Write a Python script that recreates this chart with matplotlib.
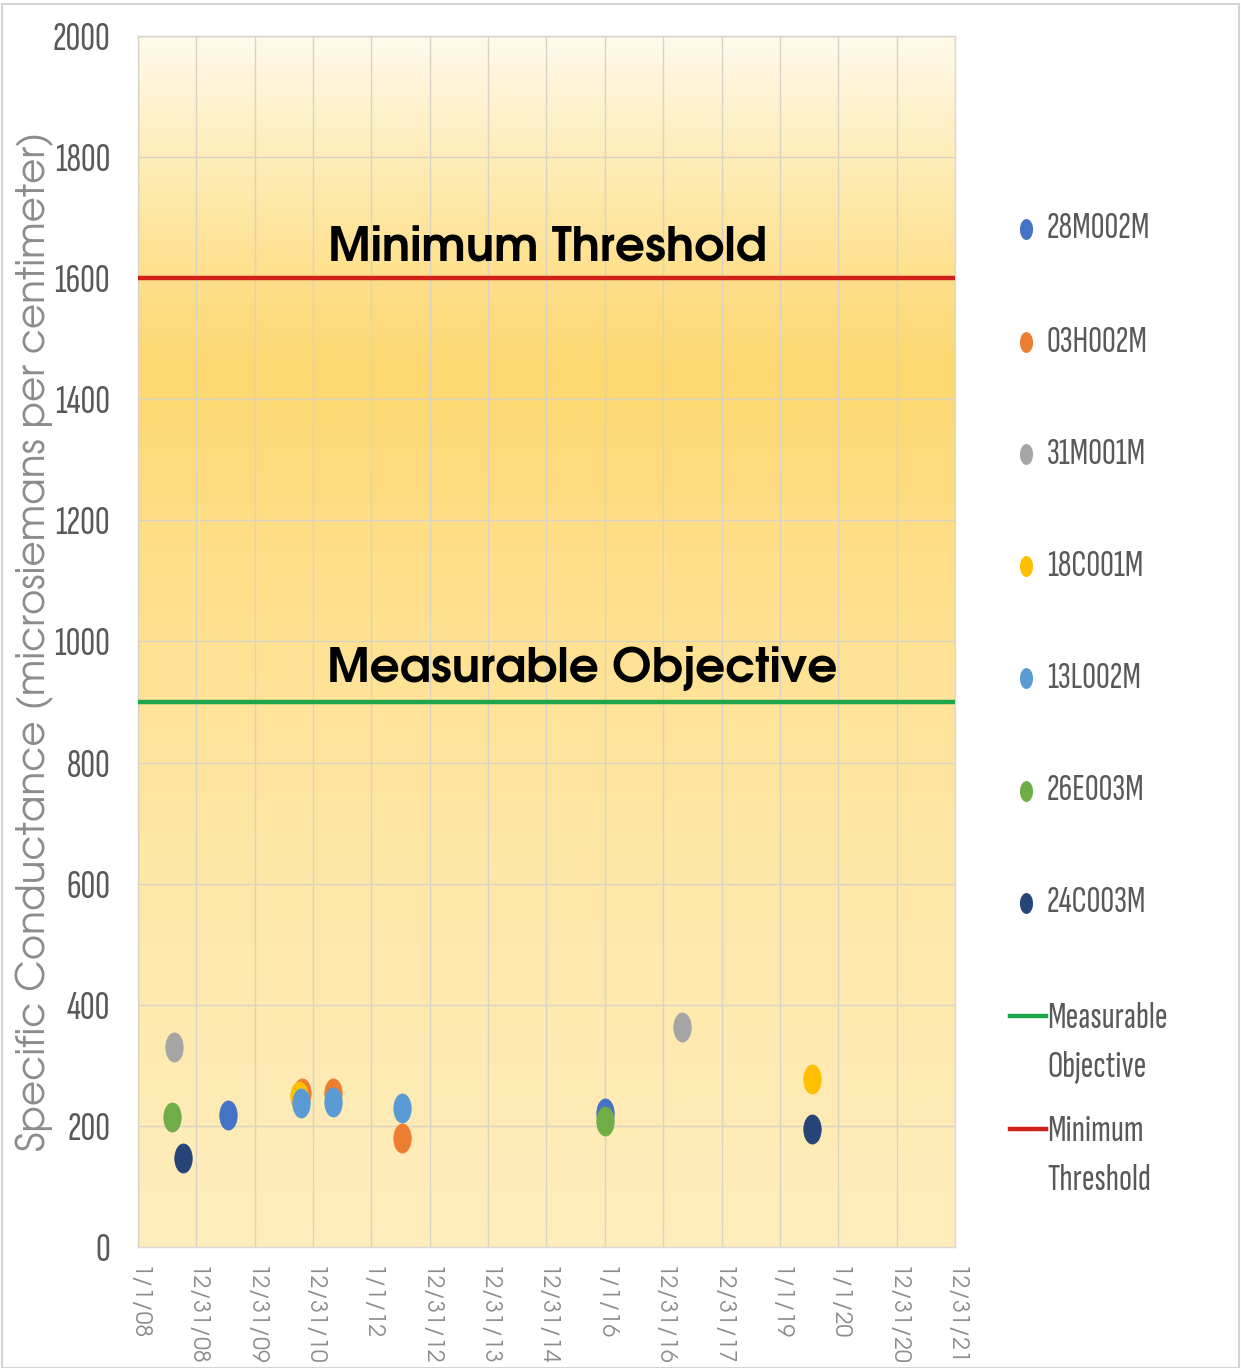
import numpy as np
import matplotlib
matplotlib.use("Agg")
import matplotlib.pyplot as plt
from matplotlib.path import Path
from matplotlib.lines import Line2D
from matplotlib.colors import LinearSegmentedColormap
from matplotlib.patches import Rectangle

# ---- data -------------------------------------------------------------
x_tick_labels = ["1/1/08", "12/31/08", "12/31/09", "12/31/10", "1/1/12",
                 "12/31/12", "12/31/13", "12/31/14", "1/1/16", "12/31/16",
                 "12/31/17", "1/1/19", "1/1/20", "12/31/20", "12/31/21"]

series_names = ["28M002M", "03H002M", "31M001M", "18C001M",
                "13L002M", "26E003M", "24C003M"]
series_colors = ["#4472C4", "#ED7D31", "#A5A5A5", "#FFC000",
                 "#5B9BD5", "#70AD47", "#264478"]

# x in tick-interval units from 1/1/08, y in microsiemens/cm
x_28M002M = [1.54, 8.00]
y_28M002M = [218, 221]
x_03H002M = [2.81, 3.34, 4.52]
y_03H002M = [254, 254, 180]
x_31M001M = [0.62, 9.32]
y_31M001M = [330, 363]
x_18C001M = [2.76, 11.55]
y_18C001M = [249, 277]
x_13L002M = [2.79, 3.34, 4.52]
y_13L002M = [238, 240, 230]
x_26E003M = [0.58, 8.00]
y_26E003M = [215, 208]
x_24C003M = [0.77, 11.55]
y_24C003M = [147, 195]

series_x = [x_28M002M, x_03H002M, x_31M001M, x_18C001M,
            x_13L002M, x_26E003M, x_24C003M]
series_y = [y_28M002M, y_03H002M, y_31M001M, y_18C001M,
            y_13L002M, y_26E003M, y_24C003M]

measurable_objective = 900
minimum_threshold = 1600

# ---- style ------------------------------------------------------------
narrow_font = ["Sofia Sans Extra Condensed", "Fira Sans Extra Condensed", "DejaVu Sans"]
geo_font = ["TeX Gyre Adventor", "DejaVu Sans"]
label_gray = "#595959"

theta = np.linspace(0, 2 * np.pi, 73)
ellipse = Path(np.column_stack([0.6 * np.cos(theta), np.sin(theta)]), closed=True)

fig = plt.figure(figsize=(12.41, 13.68), dpi=100)
fig.patch.set_facecolor("white")
ax = fig.add_axes([0.1112, 0.0885, 0.6583, 0.8852])

ax.set_xlim(0, 14)
ax.set_ylim(0, 2000)

# vertical colour wash behind the plot area
grad_vals = [0, 300, 600, 900, 1200, 1450, 1600, 1800, 2000]
grad_cols = ["#FEEDBC", "#FEEAB2", "#FEE7A8", "#FEE398", "#FEDD84",
             "#FDD870", "#FEDF8A", "#FEEDB8", "#FFF9EA"]
cmap = LinearSegmentedColormap.from_list(
    "wash", list(zip(np.array(grad_vals) / 2000, grad_cols)))
ramp = np.linspace(0, 1, 400).reshape(-1, 1)
ax.imshow(ramp, cmap=cmap, aspect="auto", origin="lower",
          extent=[0, 14, 0, 2000], zorder=0, interpolation="bilinear")

# ticks and grid
ax.set_xticks(np.arange(len(x_tick_labels)))
ax.set_xticklabels(x_tick_labels, rotation=270, fontsize=16.5,
                   color="#8C8C8C", family=geo_font)
ax.set_yticks(np.arange(0, 2001, 200))
ax.set_yticklabels([str(v) for v in range(0, 2001, 200)], fontsize=29.5,
                   color=label_gray, family=narrow_font)
ax.tick_params(axis="both", length=0)
ax.tick_params(axis="x", pad=14)
ax.tick_params(axis="y", pad=20)
ax.grid(True, color="#D8D3C4", linewidth=1.0, zorder=1)
ax.set_axisbelow(False)
for s in ax.spines.values():
    s.set_color("#D9D9D9")
    s.set_linewidth(1.0)

# reference lines
ax.axhline(minimum_threshold, color="#D0201A", linewidth=3.2, zorder=3)
ax.axhline(measurable_objective, color="#1FA64A", linewidth=3.2, zorder=3)

ax.text(3.26, 1627, "Minimum Threshold", fontsize=34, fontweight="bold",
        family=geo_font, color="black", va="baseline", ha="left", zorder=4)
ax.text(3.24, 933, "Measurable Objective", fontsize=34, fontweight="bold",
        family=geo_font, color="black", va="baseline", ha="left", zorder=4)

# station samples
for name, xs, ys, c in zip(series_names, series_x, series_y, series_colors):
    ax.plot(xs, ys, linestyle="none", marker=ellipse, markersize=21,
            markerfacecolor=c, markeredgecolor=c, markeredgewidth=0.5,
            zorder=5, label=name)

ax.set_ylabel("Specific Conductance (microsiemans per centimeter)",
              fontsize=28, color="#8C8C8C", family=geo_font)
ax.yaxis.label.set_verticalalignment("center")
ax.yaxis.set_label_coords(-0.126, 0.5)

# legend column on the right
W, H = 1241, 1368
leg_rows = [229, 342, 454, 566, 678, 791, 903]
for name, c, row in zip(series_names, series_colors, leg_rows):
    fig.add_artist(Line2D([1026 / W], [1 - row / H], transform=fig.transFigure,
                          marker=ellipse, markersize=14, linestyle="none",
                          markerfacecolor=c, markeredgecolor=c))
    fig.text(1047 / W, 1 - row / H, name, fontsize=27.5, color=label_gray,
             family=narrow_font, va="center", ha="left")

for label, c, row in [("Measurable\nObjective", "#1FA64A", 1016),
                      ("Minimum\nThreshold", "#D0201A", 1129)]:
    fig.add_artist(Line2D([1010 / W, 1046 / W], [1 - row / H, 1 - row / H],
                          transform=fig.transFigure, color=c, linewidth=3.2))
    fig.text(1047 / W, 1 - (row - 14) / H, label, fontsize=27.5,
             color=label_gray, family=narrow_font, va="top", ha="left",
             linespacing=1.6)

# thin frame round the figure
fig.add_artist(Rectangle((0.002, 0.0), 0.996, 0.997, transform=fig.transFigure,
                         fill=False, edgecolor="#D4D4D4", linewidth=1.5))

fig.savefig("out.png", dpi=100)
